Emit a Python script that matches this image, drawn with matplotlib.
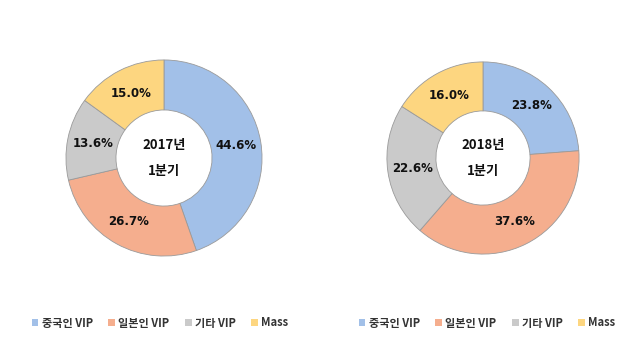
import matplotlib
matplotlib.use('Agg')
import matplotlib.pyplot as plt
from matplotlib.patches import Patch
import numpy as np

plt.rcParams['font.family'] = ['Noto Sans CJK KR', 'DejaVu Sans']

categories = ['중국인 VIP', '일본인 VIP', '기타 VIP', 'Mass']
share_2017 = [44.6, 26.7, 13.6, 15.0]
share_2018 = [23.8, 37.6, 22.6, 16.0]
center_labels = ['2017년\n1분기', '2018년\n1분기']
colors = ['#A2C0E8', '#F5AE8E', '#CACACA', '#FDD680']

W, H = 639, 352
fig = plt.figure(figsize=(W / 100, H / 100), dpi=100)
fig.patch.set_facecolor('white')


def donut(cx, cy, r, values, label):
    ax = fig.add_axes([(cx - r) / W, (H - cy - r) / H, 2 * r / W, 2 * r / H])
    ax.pie(values, colors=colors, startangle=90, counterclock=False, radius=1.0,
           wedgeprops=dict(width=0.51, edgecolor='#9A9A9A', linewidth=0.6))
    total = sum(values)
    start = 90.0
    for v in values:
        mid = start - v / total * 360 / 2
        start -= v / total * 360
        rr = 0.74
        ax.text(rr * np.cos(np.radians(mid)), rr * np.sin(np.radians(mid)),
                f'{v:.1f}%', ha='center', va='center', fontsize=8.5,
                fontweight='bold', color='#111111', family=['DejaVu Sans'])
    ax.text(0, 0, label, ha='center', va='center', fontsize=9.5,
            fontweight='bold', color='#111111', linespacing=2.1)
    ax.set_xlim(-1.02, 1.02)
    ax.set_ylim(-1.02, 1.02)
    ax.set_aspect('equal')
    ax.axis('off')


donut(164, 158, 100, share_2017, center_labels[0])
donut(483, 158, 98, share_2018, center_labels[1])

handles = [Patch(facecolor=c, edgecolor='none') for c in colors]
for x in (160 / W, 487 / W):
    fig.legend(handles, categories, loc='center', bbox_to_anchor=(x, 1 - 323 / H),
               ncol=4, frameon=False, handlelength=0.6, handleheight=0.6,
               handletextpad=0.3, columnspacing=1.4,
               prop={'weight': 'bold', 'size': 8}, labelcolor='#333333')

fig.savefig('out.png', dpi=100, facecolor='white')
